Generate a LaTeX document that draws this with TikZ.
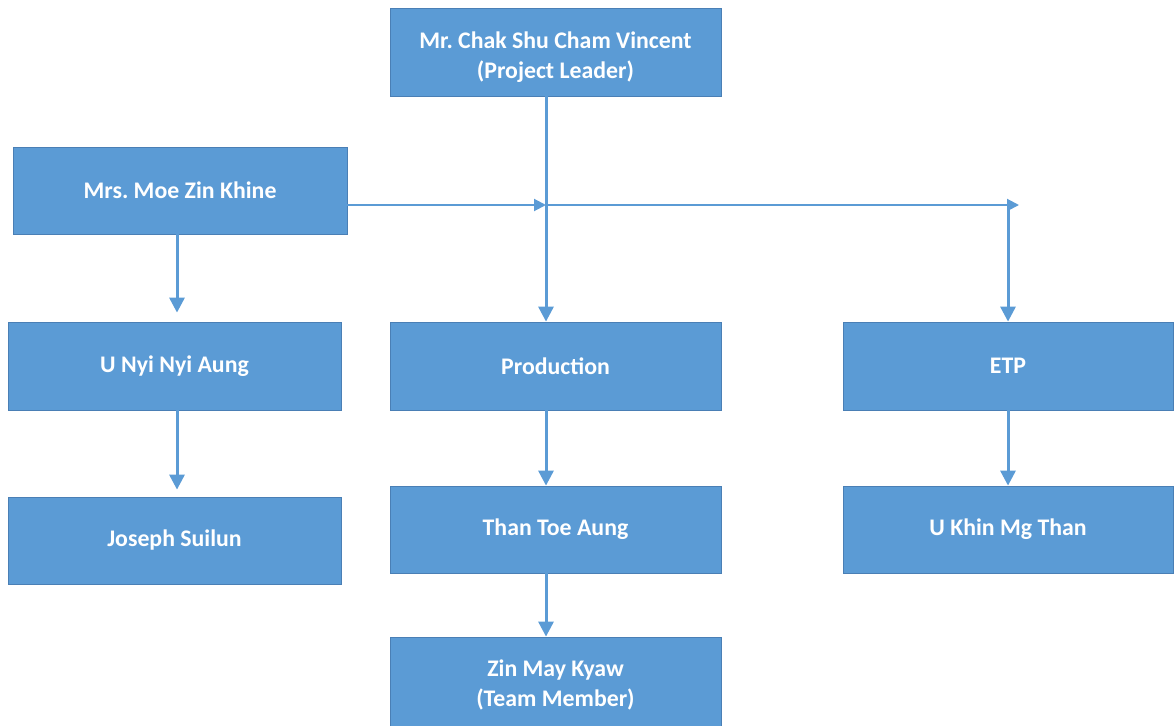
\documentclass[tikz,border=0pt]{standalone}
\usepackage{fontspec}
\setmainfont{Carlito}
\usetikzlibrary{arrows.meta}
\definecolor{boxfill}{HTML}{5B9BD5}
\definecolor{boxline}{HTML}{4A7FB5}
\definecolor{conn}{HTML}{5B9BD5}
\frenchspacing
\tikzset{
  orgbox/.style={draw=boxline, line width=0.8pt, fill=boxfill, text=white, font=\bfseries\fontsize{23.8}{30}\selectfont, align=center, minimum width=331pt, minimum height=88pt, inner sep=0pt},
  thick arr/.style={draw=conn, line width=3pt, -{Triangle[length=15pt,width=15pt]}},
  thin arr/.style={draw=conn, line width=2pt, -{Triangle[length=12pt,width=12pt]}},
}
\begin{document}
\begin{tikzpicture}[x=1pt,y=-1pt]
\useasboundingbox (0,0) rectangle (1174,725);
\node[orgbox] (leader) at (555.5,52) {\begin{tabular}{@{}c@{}}\rule{0pt}{32pt}Mr. Chak Shu Cham Vincent\\(Project Leader)\end{tabular}};
\node[orgbox, minimum width=334pt, minimum height=87pt] (moe) at (180,190.5) {Mrs. Moe Zin Khine};
\node[orgbox, minimum width=333pt] (unyi) at (174.5,366) {U Nyi Nyi Aung};
\node[orgbox] (prod) at (555.5,366) {Production};
\node[orgbox, minimum width=330pt] (etp) at (1008,366) {ETP};
\node[orgbox, minimum width=333pt, minimum height=87pt] (joseph) at (174.5,540.5) {Joseph Suilun};
\node[orgbox, minimum height=87pt] (than) at (555.5,529.5) {Than Toe Aung};
\node[orgbox, minimum width=330pt, minimum height=87pt] (ukhin) at (1008,529.5) {U Khin Mg Than};
\node[orgbox, minimum height=96pt] (zin) at (555.5,685) {Zin May Kyaw\\(Team Member)};
\coordinate (jc) at (546,205);
\coordinate (je) at (1019,205);
% leader to production
\draw[thick arr] ([xshift=-9.5pt]leader.south) -- ([xshift=-9.5pt]prod.north);
% moe to junction
\draw[thin arr] (moe.east |- jc) -- (jc);
\draw[thin arr] (jc) -- (je);
\draw[thick arr] (etp.north |- jc) -- (etp.north);
% moe to u nyi
\draw[thick arr] ([xshift=-3pt]moe.south) -- ([xshift=-3pt,yshift=9pt]moe.south |- unyi.north);
\draw[thick arr] ([xshift=2.5pt]unyi.south) -- ([xshift=2.5pt,yshift=7pt]joseph.north);
\draw[thick arr] ([xshift=-9.5pt]prod.south) -- ([xshift=-9.5pt]than.north);
\draw[thick arr] ([xshift=-9.5pt]than.south) -- ([xshift=-9.5pt]zin.north);
\draw[thick arr] (etp.south) -- (ukhin.north);
\end{tikzpicture}
\end{document}
